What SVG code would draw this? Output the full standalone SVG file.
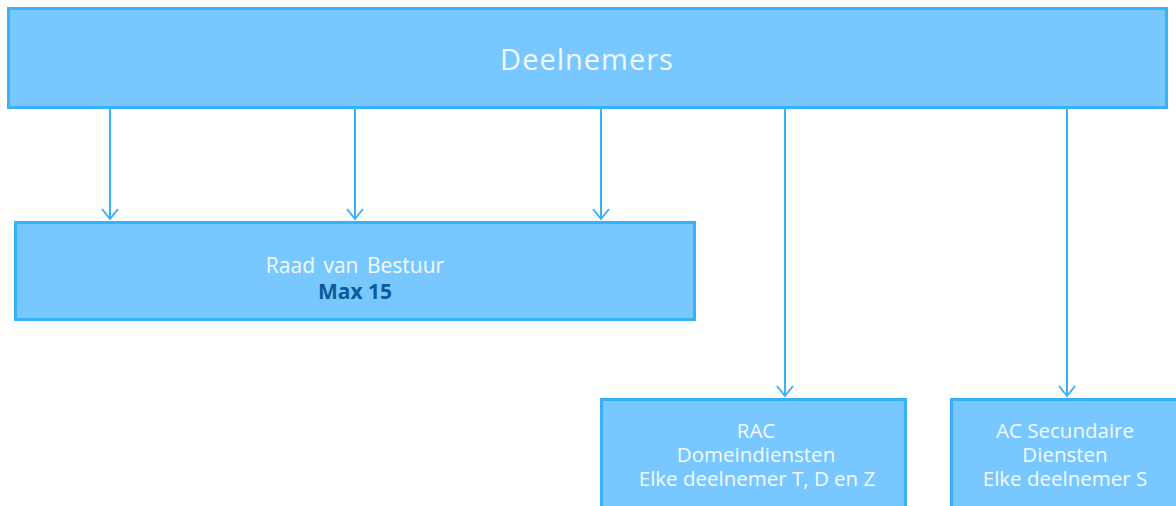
<svg xmlns="http://www.w3.org/2000/svg" width="1176" height="506" viewBox="0 0 1176 506">
<style>
.box{fill:#78c8ff;stroke:#3bb0fa;stroke-width:3}
.t{font-family:"Open Sans","Noto Sans",sans-serif;fill:#f4faff;text-anchor:middle;font-size:20.5px}
.b{font-family:"Open Sans","Noto Sans",sans-serif;fill:#0b5b9a;text-anchor:middle;font-size:21px;font-weight:bold}
.c{stroke:#3bb0fa;stroke-width:2;fill:none}
</style>
<defs>
<marker id="ah" viewBox="0 0 20 20" refX="18" refY="10" markerWidth="20" markerHeight="20" markerUnits="userSpaceOnUse" orient="auto">
<path d="M8,2 L18,10 L8,18" fill="none" stroke="#3bb0fa" stroke-width="2"/>
</marker>
</defs>
<g id="connectors">
<line class="c" x1="110" y1="108" x2="110" y2="219" marker-end="url(#ah)"/>
<line class="c" x1="355" y1="108" x2="355" y2="219" marker-end="url(#ah)"/>
<line class="c" x1="601" y1="108" x2="601" y2="219" marker-end="url(#ah)"/>
<line class="c" x1="785" y1="108" x2="785" y2="396" marker-end="url(#ah)"/>
<line class="c" x1="1067" y1="108" x2="1067" y2="396" marker-end="url(#ah)"/>
</g>
<g id="deelnemers">
<rect class="box" x="8.5" y="8.5" width="1158" height="99"/>
<text class="t" x="587" y="70" style="font-size:29px;letter-spacing:1px">Deelnemers</text>
</g>
<g id="raad">
<rect class="box" x="15.5" y="222.5" width="679" height="97"/>
<text class="t" x="355" y="273" style="font-size:21px;word-spacing:3px">Raad van Bestuur</text>
<text class="b" x="355" y="299">Max 15</text>
</g>
<g id="rac">
<rect class="box" x="601.5" y="399.5" width="304" height="120"/>
<text class="t" x="756" y="438">RAC</text>
<text class="t" x="756" y="462">Domeindiensten</text>
<text class="t" x="757" y="486">Elke deelnemer T, D en Z</text>
</g>
<g id="ac">
<rect class="box" x="951.5" y="399.5" width="240" height="120"/>
<text class="t" x="1065" y="438">AC Secundaire</text>
<text class="t" x="1065" y="462">Diensten</text>
<text class="t" x="1065" y="486">Elke deelnemer S</text>
</g>
</svg>
